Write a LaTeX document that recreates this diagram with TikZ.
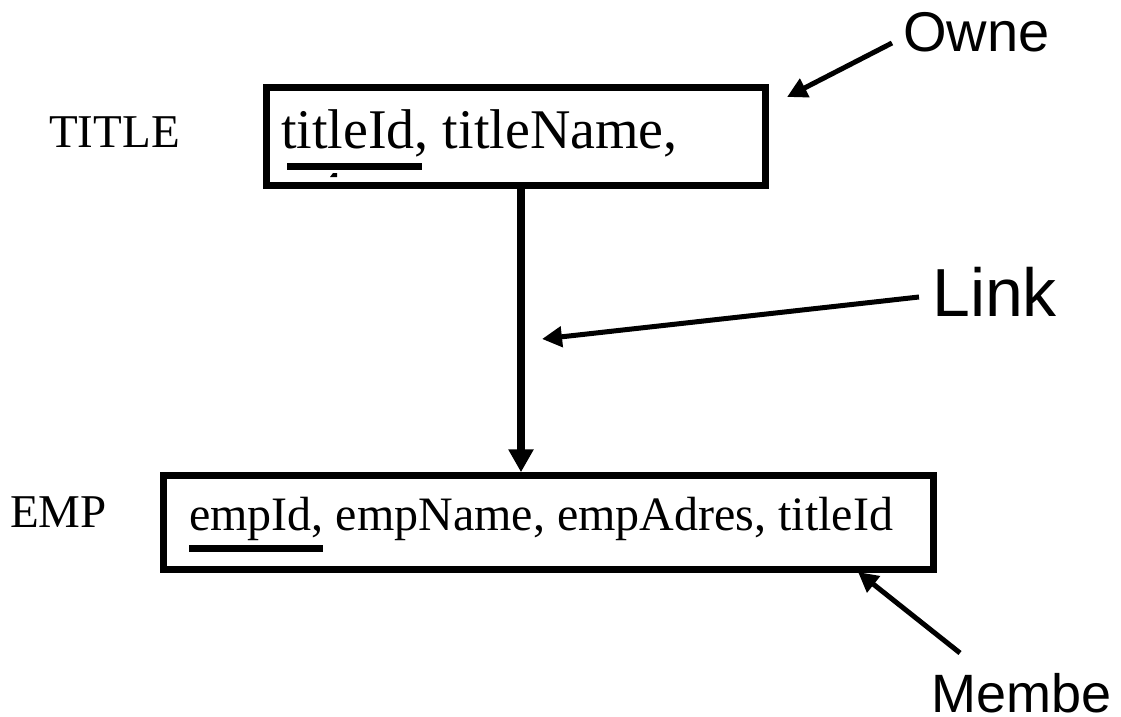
\documentclass[tikz,border=0pt]{standalone}
\usepackage{fontspec}
\setmainfont{Liberation Serif}
\newfontfamily\labelfont{Liberation Sans}
\usetikzlibrary{arrows.meta}

\tikzset{
  relbox/.style={draw=black, line width=7pt, fill=none, inner sep=0pt},
  relname/.style={inner sep=0pt, anchor=base west, font=\fontsize{47}{50}\selectfont},
  fieldtext/.style={inner sep=0pt, anchor=base west},
  callout/.style={inner sep=0pt, anchor=base west},
  pointer/.style={line width=5pt, -{Triangle[length=20pt,width=20pt]}},
  linkline/.style={line width=8pt, -{Triangle[length=23pt,width=24pt]}},
  keybar/.style={fill=black, draw=none},
}

\begin{document}
\begin{tikzpicture}[x=1pt, y=-1pt]
  \useasboundingbox (0,0) rectangle (1121,717);

  % record boxes
  \node[relbox, minimum width=499.5pt, minimum height=98.5pt] (title) at (516,136.5) {};
  \node[relbox, minimum width=769.5pt, minimum height=93.5pt] (emp) at (548.5,522.5) {};

  % record type names
  \node[relname] (titlelbl) at (49,147) {TITLE};
  \node[relname] (emplbl) at (10,527) {EMP};

  % field lists
  \node[fieldtext, font=\fontsize{56}{60}\selectfont] (titlefields) at (281,148) {titleId, titleName,};
  \node[fieldtext, font=\fontsize{48}{52}\selectfont] (empfields) at (189,530) {empId, empName, empAdres, titleId};

  % key underlines
  \fill[keybar] (287,163) rectangle (422,170);
  \fill[keybar] (189,545) rectangle (323,552);
  \fill[keybar] (330,177) -- (333,173) -- (337,173) -- (337,177) -- cycle;

  % set link from owner to member
  \coordinate (lx) at (521,0);
  \draw[linkline] (title.south -| lx) -- (emp.north -| lx);

  % callout labels
  \node[callout, font=\labelfont\fontsize{56}{60}\selectfont] (owner) at (903,52) {Owne};
  \node[callout, font=\labelfont\fontsize{68}{72}\selectfont] (link) at (932,316) {Link};
  \node[callout, font=\labelfont\fontsize{54}{58}\selectfont] (member) at (931,712) {Membe};

  % callout pointers
  \coordinate (ownerfrom) at (892,43);
  \coordinate (ownerto) at (787,97);
  \coordinate (linkfrom) at (919,297);
  \coordinate (linkto) at (542,339);
  \coordinate (memberfrom) at (960,653);
  \coordinate (memberto) at (858,572);
  \draw[pointer] (ownerfrom) -- (ownerto);
  \draw[pointer] (linkfrom) -- (linkto);
  \draw[pointer] (memberfrom) -- (memberto);
\end{tikzpicture}
\end{document}
